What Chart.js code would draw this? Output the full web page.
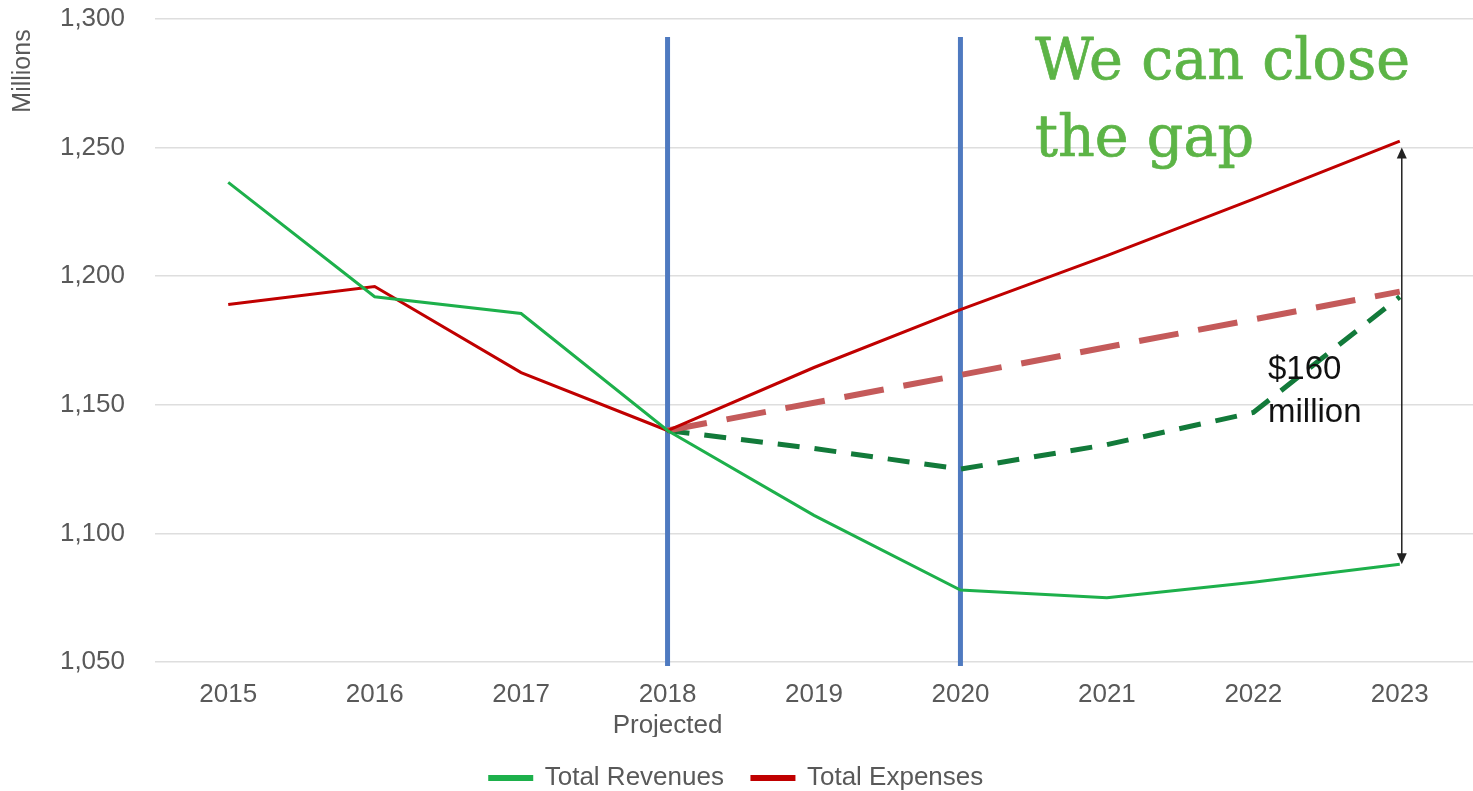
<!DOCTYPE html>
<html>
<head>
<meta charset="utf-8">
<script src="https://cdn.jsdelivr.net/npm/chart.js@4.4.0/dist/chart.umd.min.js"></script>
<style>
  html, body { margin: 0; padding: 0; background: #ffffff; }
  #wrap { width: 1473px; height: 791px; position: relative; }
</style>
</head>
<body>
<div id="wrap"><canvas id="c"></canvas></div>
<script>
// ---- data ----
const years = ['2015', '2016', '2017', '2018', '2019', '2020', '2021', '2022', '2023'];
const xTickLabels = ['2015', '2016', '2017', ['2018', 'Projected'], '2019', '2020', '2021', '2022', '2023'];
const totalRevenues = [1236.5, 1192, 1185.5, 1140, 1107, 1078, 1075, 1081, 1088];
const totalExpenses = [1189, 1196, 1162.5, 1140, 1164.5, 1187, 1208, 1230, 1252.5];
const targetExpenses = [null, null, null, 1140, null, null, null, null, 1194];
const targetRevenues = [null, null, null, 1140, 1133, 1125, 1134.5, 1147, 1192];
const markerYears = ['2018', '2020'];
const gapFrom = 1250, gapTo = 1088, gapYear = '2023';
const gapLabel = ['$160', 'million'];
const headline = ['We can close', 'the gap'];
const yTicks = [1050, 1100, 1150, 1200, 1250, 1300];

const overlay = {
  id: 'overlay',
  beforeDatasetsDraw(chart) {
    const ctx = chart.ctx, x = chart.scales.x, y = chart.scales.y;
    ctx.save();
    ctx.strokeStyle = '#4f7ac0';
    ctx.lineWidth = 5;
    markerYears.forEach(yr => {
      const px = x.getPixelForValue(years.indexOf(yr));
      ctx.beginPath();
      ctx.moveTo(px, y.getPixelForValue(1293));
      ctx.lineTo(px, y.getPixelForValue(1050) + 4);
      ctx.stroke();
    });
    ctx.restore();
  },
  afterDraw(chart) {
    const ctx = chart.ctx, x = chart.scales.x, y = chart.scales.y;
    ctx.save();
    ctx.translate(23, 71);
    ctx.rotate(-Math.PI / 2);
    ctx.fillStyle = '#595959';
    ctx.font = '25px "Liberation Sans", Arial, sans-serif';
    ctx.textAlign = 'center';
    ctx.textBaseline = 'middle';
    ctx.fillText('Millions', 0, 0);
    ctx.restore();

    const ax = x.getPixelForValue(years.indexOf(gapYear)) + 2;
    const y1 = y.getPixelForValue(gapFrom), y2 = y.getPixelForValue(gapTo);
    ctx.save();
    ctx.strokeStyle = '#222';
    ctx.fillStyle = '#222';
    ctx.lineWidth = 1.5;
    ctx.beginPath();
    ctx.moveTo(ax, y1 + 6);
    ctx.lineTo(ax, y2 - 6);
    ctx.stroke();
    ctx.beginPath();
    ctx.moveTo(ax, y1); ctx.lineTo(ax - 5, y1 + 11); ctx.lineTo(ax + 5, y1 + 11); ctx.closePath(); ctx.fill();
    ctx.beginPath();
    ctx.moveTo(ax, y2); ctx.lineTo(ax - 5, y2 - 11); ctx.lineTo(ax + 5, y2 - 11); ctx.closePath(); ctx.fill();

    ctx.font = '33px "Liberation Sans", Arial, sans-serif';
    ctx.textAlign = 'left';
    ctx.textBaseline = 'middle';
    ctx.fillStyle = '#111';
    ctx.fillText(gapLabel[0], 1268, 370);
    ctx.fillText(gapLabel[1], 1268, 413);

    ctx.fillStyle = '#5cb446';
    ctx.strokeStyle = '#5cb446';
    ctx.lineWidth = 0.7;
    ctx.lineJoin = 'round';
    ctx.font = '60px "DejaVu Serif", serif';
    const w = ctx.measureText(headline[0]).width;
    const size = 60 * 375 / w;
    ctx.font = size.toFixed(1) + 'px "DejaVu Serif", serif';
    ctx.textBaseline = 'alphabetic';
    ctx.fillText(headline[0], 1035, 79);
    ctx.strokeText(headline[0], 1035, 79);
    ctx.fillText(headline[1], 1035, 156);
    ctx.strokeText(headline[1], 1035, 156);
    ctx.restore();
  }
};

Chart.defaults.font.family = '"Liberation Sans", Arial, sans-serif';
Chart.defaults.color = '#595959';

new Chart(document.getElementById('c'), {
  type: 'line',
  data: {
    labels: xTickLabels,
    datasets: [
      { label: 'Total Revenues', data: totalRevenues, borderColor: '#1db04b', backgroundColor: '#1db04b', borderWidth: 3, pointRadius: 0, tension: 0 },
      { label: 'Total Expenses', data: totalExpenses, borderColor: '#c00000', backgroundColor: '#c00000', borderWidth: 3, pointRadius: 0, tension: 0 },
      { label: 'Target Expenses', data: targetExpenses, borderColor: '#c45a5a', borderWidth: 6, borderDash: [40, 20], pointRadius: 0, spanGaps: true },
      { label: 'Target Revenues', data: targetRevenues, borderColor: '#127a3a', borderWidth: 5, borderDash: [22, 15], pointRadius: 0, spanGaps: true }
    ]
  },
  options: {
    responsive: true,
    maintainAspectRatio: false,
    animation: false,
    devicePixelRatio: 1,
    layout: { padding: { top: 19, right: 0, left: 0, bottom: -10 } },
    plugins: {
      tooltip: { enabled: false },
      legend: {
        position: 'bottom',
        labels: {
          filter: (item) => item.datasetIndex < 2,
          boxWidth: 42,
          boxHeight: 3,
          font: { size: 26 },
          color: '#595959',
          padding: 28
        }
      }
    },
    scales: {
      x: {
        grid: { display: false, drawTicks: false },
        border: { display: false },
        offset: true,
        afterFit: (s) => { s.height = 75; s.paddingLeft = 0; s.paddingRight = 0; },
        ticks: { font: { size: 26 }, color: '#595959', padding: 17, maxRotation: 0, autoSkip: false }
      },
      y: {
        min: 1050,
        max: 1300,
        afterBuildTicks: (s) => { s.ticks = yTicks.map(v => ({ value: v })); },
        afterFit: (s) => { s.width = 155; s.paddingTop = 0; s.paddingBottom = 0; },
        grid: { color: '#dedede', lineWidth: 1.5, drawTicks: false },
        border: { display: false },
        ticks: { font: { size: 26 }, color: '#595959', padding: 30,
          callback: (v) => v.toLocaleString('en-US') }
      }
    }
  },
  plugins: [overlay]
});
</script>
</body>
</html>
